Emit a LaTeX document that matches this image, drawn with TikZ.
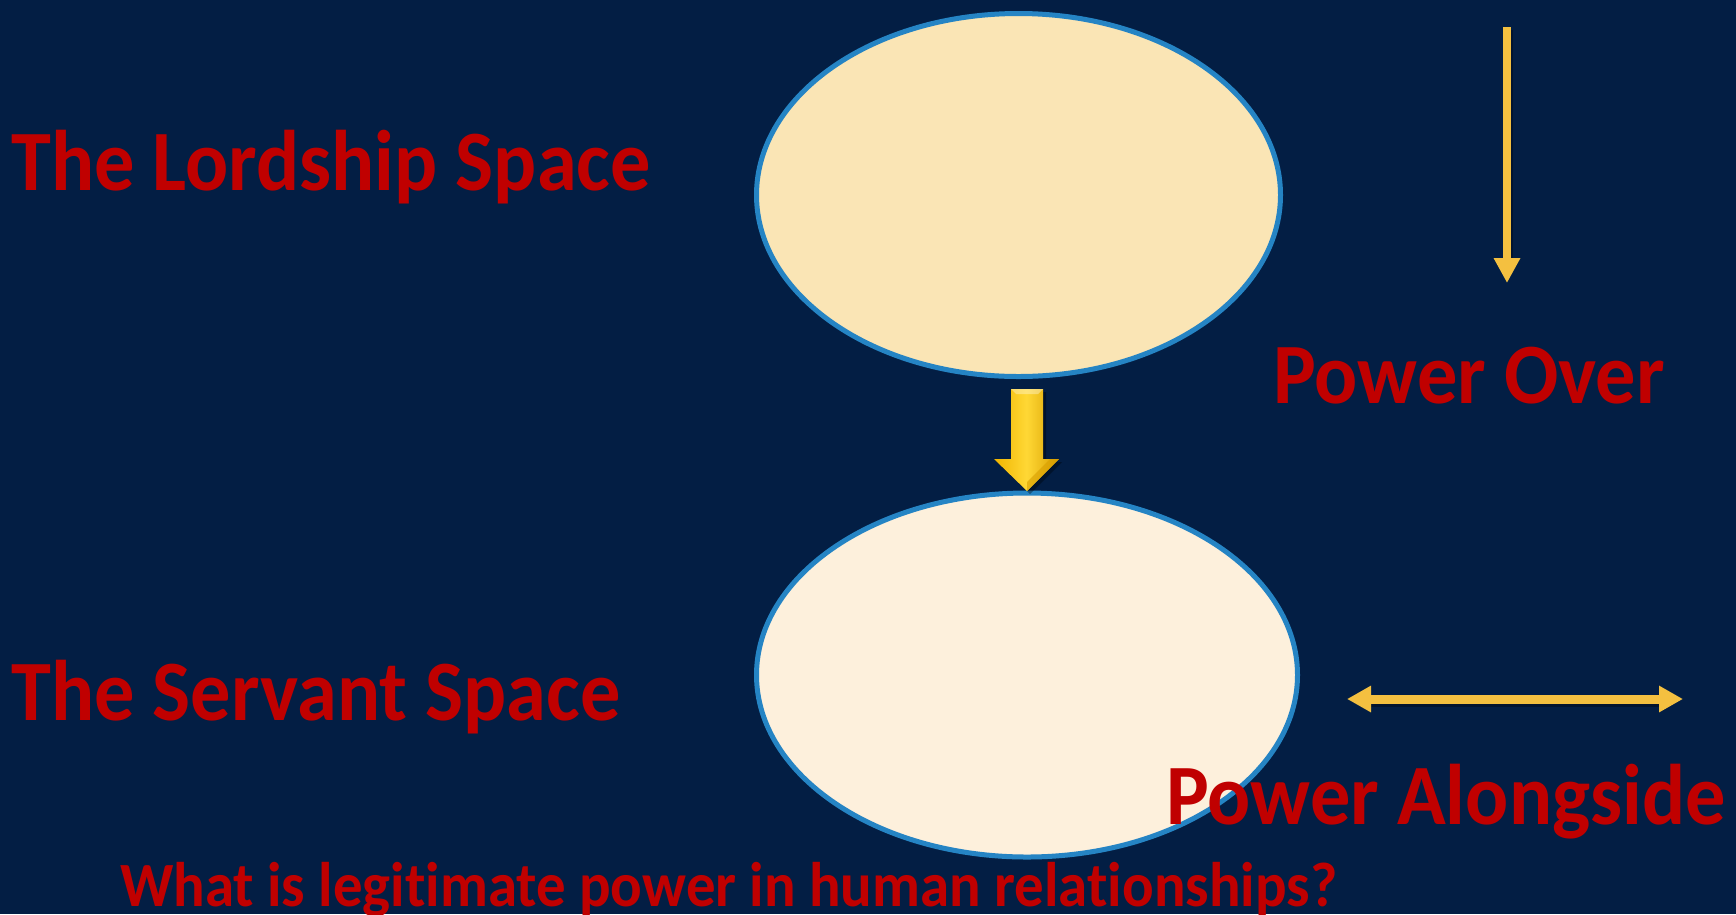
\documentclass[tikz,border=0pt]{standalone}
\usepackage{fontspec}
\setmainfont[FakeStretch=0.935, Ligatures=NoCommon]{Carlito}
\usetikzlibrary{shapes.geometric,arrows.meta}
\definecolor{bgnavy}{HTML}{031E44}
\definecolor{titlered}{HTML}{C00000}
\definecolor{rimblue}{HTML}{2584C4}
\definecolor{topfill}{HTML}{FAE5B5}
\definecolor{botfill}{HTML}{FDF0DC}
\definecolor{gold}{HTML}{F4C040}
\definecolor{goldL}{HTML}{F0B400}
\definecolor{goldM}{HTML}{FFD835}
\definecolor{goldR}{HTML}{D89E00}
\tikzset{
  space/.style={ellipse, draw=rimblue, line width=5pt, inner sep=0pt},
  bigtext/.style={anchor=base west, inner sep=0pt, text=titlered, font=\fontsize{86}{90}\selectfont\bfseries},
  smalltext/.style={anchor=base west, inner sep=0pt, text=titlered, font=\fontsize{63}{66}\selectfont\bfseries},
}
\begin{document}
\begin{tikzpicture}[x=1pt,y=-1pt]
\fill[bgnavy] (0,0) rectangle (1736,914);
\useasboundingbox (0,0) rectangle (1736,914);

% ellipses
\node[space, fill=topfill, minimum width=524pt, minimum height=363pt] (lord) at (1018.5,195) {};
\node[space, fill=botfill, minimum width=541pt, minimum height=364pt] (serv) at (1027,675) {};

% central 3D arrow
\fill[black, opacity=0.35] (1014,392) -- (1046,392) -- (1046,462) -- (1062,462) -- (1030,494) -- (997,462) -- (1014,462) -- cycle;
\shade[left color=goldL, right color=goldR, middle color=goldM]
  (1011,389) -- (1043,389) -- (1043,459) -- (1059,459) -- (1027,491) -- (994,459) -- (1011,459) -- cycle;
\fill[white, opacity=0.35] (1011,389) -- (1043,389) -- (1038,394) -- (1016,394) -- cycle;
\fill[goldR, opacity=0.6] (1027,491) -- (1059,459) -- (1050,459) -- (1027,482) -- cycle;

% texts
\node[bigtext] (tlord) at (11,190) {The Lordship Space};
\node[bigtext] (tserv) at (11,720) {The Servant Space};
\node[bigtext] (tover) at (1273,403) {Power Over};
\node[bigtext] (talong) at (1166,824) {Power Alongside};
\node[smalltext] (tquest) at (120,906) {What is legitimate power in human relationships?};

% right-side arrows
\coordinate (ovA) at (1507,27);
\coordinate (ovB) at (1507,283);
\draw[black, opacity=0.3, line width=8pt] (1509,30) -- (1509,262);
\draw[draw=gold, line width=8pt, -{Triangle[width=25pt,length=25pt]}, gold] (ovA) -- (ovB);

\coordinate (alA) at (1347,699);
\coordinate (alB) at (1683,699);
\draw[black, opacity=0.3, line width=9pt] (1370,702) -- (1660,702);
\draw[draw=gold, line width=9pt, {Triangle[width=25pt,length=24pt]}-{Triangle[width=25pt,length=24pt]}, gold] (alA) -- (alB);
\end{tikzpicture}
\end{document}
